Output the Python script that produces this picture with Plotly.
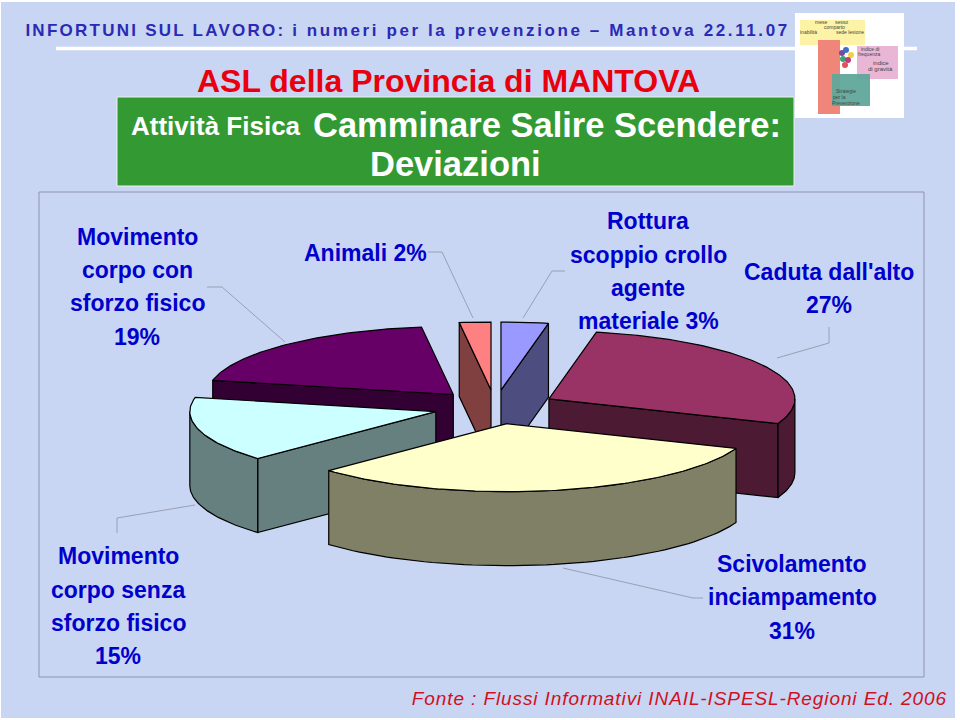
import math
import plotly.graph_objects as go

# ---- chart data (as printed; they total 97, the pie normalises them) ----
categories = ["Rottura scoppio crollo agente materiale", "Caduta dall'alto",
              "Scivolamento inciampamento", "Movimento corpo senza sforzo fisico",
              "Movimento corpo con sforzo fisico", "Animali"]
values = [3, 27, 31, 15, 19, 2]
top_colors = ["#9999ff", "#993366", "#ffffcc", "#ccffff", "#660066", "#ff8080"]
side_colors = ["#4d4d80", "#4d1a33", "#808066", "#668080", "#330033", "#804040"]

# ---- pie geometry ----
CX, CY = 495, 407
RX, RY = 246, 68
DEPTH = 74
EXPLODE = 0.25
DRAW_ORDER = [5, 0, 4, 1, 3, 2]

BLUE = "#0000cc"
LABEL_FONT = "Liberation Sans"

fig = go.Figure()


def pt(t, ox, oy, dz=0):
    r = math.radians(t)
    return ox + RX * math.sin(r), oy - RY * math.cos(r) + dz


def poly(pts, color):
    xs = [p[0] for p in pts] + [pts[0][0]]
    ys = [p[1] for p in pts] + [pts[0][1]]
    fig.add_trace(go.Scatter(x=xs, y=ys, mode="lines", fill="toself", fillcolor=color,
                             line=dict(color="#000000", width=1.2), hoverinfo="skip",
                             showlegend=False))


total = sum(values)
angles = [0]
for v in values:
    angles.append(angles[-1] + 360 * v / total)

for i in DRAW_ORDER:
    t0, t1 = angles[i], angles[i + 1]
    mid = math.radians((t0 + t1) / 2)
    ox = CX + EXPLODE * RX * math.sin(mid)
    oy = CY - EXPLODE * RY * math.cos(mid)
    top, side = top_colors[i], side_colors[i]
    if math.sin(math.radians(t0)) < 0:
        a, b = (ox, oy), pt(t0, ox, oy)
        poly([a, b, (b[0], b[1] + DEPTH), (a[0], a[1] + DEPTH)], side)
    if math.sin(math.radians(t1)) > 0:
        a, b = (ox, oy), pt(t1, ox, oy)
        poly([a, b, (b[0], b[1] + DEPTH), (a[0], a[1] + DEPTH)], side)
    lo, hi = max(t0, 90), min(t1, 270)
    if lo < hi:
        n = 60
        arc = [lo + (hi - lo) * k / n for k in range(n + 1)]
        poly([pt(t, ox, oy) for t in arc] + [pt(t, ox, oy, DEPTH) for t in reversed(arc)], side)
    n = max(6, int(t1 - t0))
    arc = [t0 + (t1 - t0) * k / n for k in range(n + 1)]
    poly([(ox, oy)] + [pt(t, ox, oy) for t in arc], top)

shapes = []


def rect(x0, y0, x1, y1, color, line=None, width=0, op=1):
    shapes.append(dict(type="rect", xref="x", yref="y", x0=x0, y0=y0, x1=x1, y1=y1,
                       fillcolor=color, opacity=op, layer="below",
                       line=dict(color=line or "rgba(0,0,0,0)", width=width)))


def seg(points, color="#9aa0b4", width=1):
    path = "M " + " L ".join(f"{x},{y}" for x, y in points)
    shapes.append(dict(type="path", path=path, xref="x", yref="y", layer="below",
                       line=dict(color=color, width=width)))


# page background, frame, white rule
rect(1, 2, 955, 718, "#c8d5f3")
rect(39, 192, 924, 677, "rgba(0,0,0,0)", "#8f94b0", 1)
seg([(56, 48.5), (917, 48.5)], "#ffffff", 3.5)
# green banner
rect(117, 97, 794, 186, "#339933", "#e8f2e8", 1)
# logo
rect(795, 13, 904, 118, "#ffffff")
rect(800, 20, 865, 45, "#fdf3a6")
rect(818, 40, 840, 114, "#f0867a")
rect(857, 46, 898, 79, "#eab6d6")
rect(832, 74, 870, 106, "#5fa89a", op=0.95)
# leader lines
seg([(207, 287), (222, 287), (285, 342)])
seg([(428, 252), (442, 252), (473, 318)])
seg([(565, 271), (552, 271), (523, 318)])
seg([(829, 327), (829, 343), (777, 358)])
seg([(117, 533), (117, 518), (195, 505)])
seg([(563, 568), (693, 598), (703, 598)])

annotations = []


def txt(x, y, s, size, color, bold=False, italic=False, font=LABEL_FONT):
    if bold:
        s = f"<b>{s}</b>"
    if italic:
        s = f"<i>{s}</i>"
    annotations.append(dict(x=x, y=y, xref="x", yref="y", text=s, showarrow=False,
                            xanchor="center", yanchor="middle",
                            font=dict(family=font, size=size, color=color)))


HEAD = "#2a2ab4"
txt(155, 30, "INFORTUNI SUL LAVORO:", 17, HEAD, bold=True)
txt(541, 30, "i numeri per la prevenzione – Mantova 22.11.07", 17, HEAD, bold=True)
txt(448, 81, "ASL della Provincia di MANTOVA", 32, "#e8000f", bold=True)
txt(216, 126, "Attività Fisica", 26, "#ffffff", bold=True)
txt(547, 125, "Camminare Salire Scendere:", 34.5, "#ffffff", bold=True)
txt(455, 164, "Deviazioni", 34.5, "#ffffff", bold=True)
txt(679, 698, "Fonte : Flussi Informativi INAIL-ISPESL-Regioni Ed. 2006", 19, "#d01020", italic=True)

for x, ys, lines in [
    (137, [237, 270, 303, 337], ["Movimento", "corpo con", "sforzo fisico", "19%"]),
    (365, [253], ["Animali 2%"]),
    (648, [221, 255, 288, 321], ["Rottura", "scoppio crollo", "agente", "materiale 3%"]),
    (829, [272, 305], ["Caduta dall'alto", "27%"]),
    (118, [556, 590, 623, 656], ["Movimento", "corpo senza", "sforzo fisico", "15%"]),
    (792, [564, 597, 631], ["Scivolamento", "inciampamento", "31%"]),
]:
    for y, line in zip(ys, lines):
        txt(x, y, line, 23, BLUE, bold=True)

# tiny logo captions
for x, y, s, sz in [(821, 22, "mese", 5), (841, 22, "sesso", 5), (834, 27, "comparto", 5),
                    (808, 32, "inabilità", 5), (850, 32, "sede lesione", 5),
                    (870, 49, "indice di", 5), (869, 54, "frequenza", 5),
                    (881, 63, "indice", 6), (880, 69, "di gravità", 6),
                    (846, 91, "Strategie", 5), (839, 97, "per la", 5), (846, 103, "Prevenzione", 5)]:
    txt(x, y, s, sz, "#444444")

# logo balloon cluster
fig.add_trace(go.Scatter(x=[842, 846, 851, 843, 848, 845], y=[53, 50, 55, 59, 60, 65],
                         mode="markers", hoverinfo="skip", showlegend=False,
                         marker=dict(size=6, color=["#7a4a9a", "#3f6fc0", "#f2d040", "#40a070", "#c03a80", "#e05060"])))

fig.update_layout(width=960, height=720, margin=dict(l=0, r=0, t=0, b=0),
                  paper_bgcolor="#ffffff", plot_bgcolor="rgba(0,0,0,0)",
                  showlegend=False, shapes=shapes, annotations=annotations,
                  xaxis=dict(range=[0, 960], visible=False, fixedrange=True),
                  yaxis=dict(range=[720, 0], visible=False, fixedrange=True))

post = """
document.body.style.margin='0';document.body.style.overflow='hidden';
var sp={'INFORTUNI':2.25,'i numeri':2.6,'Fonte':0.9};
document.querySelectorAll('.annotation-text').forEach(function(t){
  var s=t.textContent;
  for(var k in sp){ if(s.indexOf(k)===0){ t.style.letterSpacing=sp[k]+'px'; } }
});
"""
fig.write_html("out.html", post_script=post, config=dict(displayModeBar=False))
